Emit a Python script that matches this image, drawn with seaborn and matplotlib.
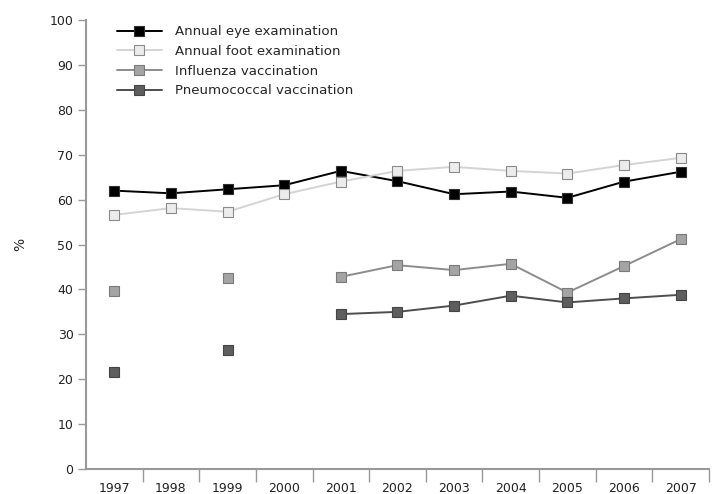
import numpy as np
import pandas as pd
import seaborn as sns
import matplotlib.pyplot as plt
from matplotlib.lines import Line2D

years = ['1997', '1998', '1999', '2000', '2001', '2002', '2003', '2004', '2005', '2006', '2007']
eye = [62.0, 61.4, 62.3, 63.2, 66.4, 64.1, 61.2, 61.8, 60.4, 64.0, 66.2]
foot = [56.6, 58.1, 57.3, 61.2, 64.0, 66.4, 67.3, 66.4, 65.8, 67.7, 69.3]
flu = [39.7, np.nan, 42.6, np.nan, 42.8, 45.4, 44.3, 45.7, 39.3, 45.2, 51.2]
pneumo = [21.7, np.nan, 26.4, np.nan, 34.5, 35.0, 36.4, 38.6, 37.1, 38.0, 38.8]

series = [
    ('Annual eye examination', eye, 'black', 'black', '#303030'),
    ('Annual foot examination', foot, '#d4d4d4', '#ececec', '#8a8a8a'),
    ('Influenza vaccination', flu, '#8c8c8c', '#a4a4a4', '#7a7a7a'),
    ('Pneumococcal vaccination', pneumo, '#4e4e4e', '#5e5e5e', '#444444'),
]

sns.set_style('white')
plt.rcParams['font.family'] = ['DejaVu Sans']

fig = plt.figure(figsize=(7.14, 4.94), dpi=100)
ax = fig.add_axes([0.1204, 0.0506, 0.8726, 0.9089])

handles = []
for name, vals, lc, fc, ec in series:
    df = pd.DataFrame({'x': np.arange(len(years)), 'y': vals})
    # split into contiguous segments so gaps are not bridged
    df['seg'] = df['y'].isna().cumsum()
    df = df.dropna()
    for _, part in df.groupby('seg'):
        sns.lineplot(data=part, x='x', y='y', ax=ax, color=lc, lw=1.4,
                     marker='s', markersize=7.5, markerfacecolor=fc,
                     markeredgecolor=ec, markeredgewidth=0.8, legend=False)
    handles.append(Line2D([], [], color=lc, lw=1.4, marker='s', markersize=7.5,
                          markerfacecolor=fc, markeredgecolor=ec,
                          markeredgewidth=0.8, label=name))

ax.set_xlim(-0.5, len(years) - 0.5)
ax.set_ylim(0, 100)
ax.set_yticks(range(0, 101, 10))
ax.set_xticks(range(len(years)))
ax.set_xticklabels(years)
ax.set_xticks(np.arange(0.5, len(years) + 0.1, 1.0), minor=True)
ax.tick_params(axis='x', which='major', bottom=True, length=0, pad=9, labelsize=9,
               colors='#222222')
ax.tick_params(axis='x', which='minor', bottom=True, length=9, width=1, color='#999999',
               direction='out')
ax.tick_params(axis='y', left=True, length=6, width=1, color='#999999', direction='out',
               labelsize=9, labelcolor='#222222', pad=3)
ax.set_xlabel('')
ax.set_ylabel('%', fontsize=10, labelpad=16)

for s in ['top', 'right']:
    ax.spines[s].set_visible(False)
for s in ['left', 'bottom']:
    ax.spines[s].set_color('#999999')
    ax.spines[s].set_linewidth(1.5)

ax.legend(handles=handles, loc='upper left', bbox_to_anchor=(0.03, 1.015), frameon=False,
          fontsize=9.6, handlelength=3.4, handletextpad=0.95, labelspacing=0.5)

fig.savefig('out.png', dpi=100)
